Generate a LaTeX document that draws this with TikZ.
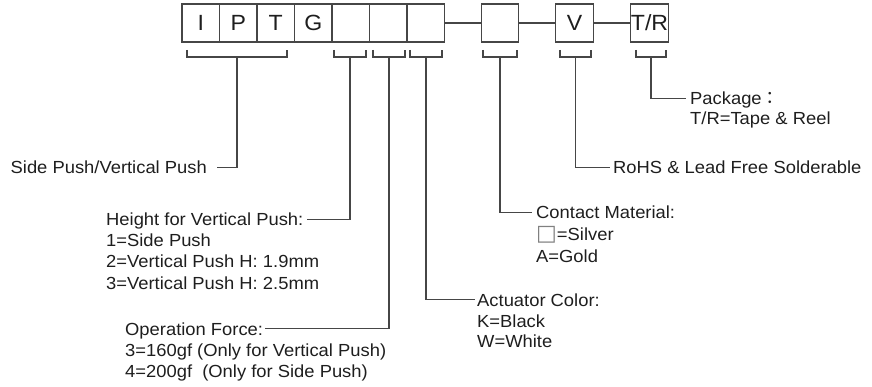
\documentclass[tikz,border=0pt]{standalone}
\usepackage{fontspec}
\setmainfont{Liberation Sans}[FakeStretch=1.05]
\newfontfamily\cjkfont{Noto Sans CJK TC}
\newfontfamily\symfont{DejaVu Sans}
\definecolor{ink}{RGB}{30,30,30}
\definecolor{wirec}{RGB}{70,70,70}
\begin{document}
\begin{tikzpicture}[x=1pt,y=-1pt,
  box/.style={draw=wirec, line width=1.2pt, minimum width=37.5pt, minimum height=38pt,
    inner sep=0pt, font=\fontsize{22}{24}\selectfont, text=ink},
  lbl/.style={inner sep=0pt, anchor=base west, font=\fontsize{17.5}{21}\selectfont,
    text=ink, text height=12.6pt, text depth=0pt},
  wire/.style={draw=wirec, line width=1.2pt}]
\useasboundingbox (0,0) rectangle (872,387);
% code boxes
\node[box] (b1) at (200.75,23) {I};
\node[box] (b2) at (238.25,23) {P};
\node[box] (b3) at (275.75,23) {T};
\node[box] (b4) at (313.25,23) {G};
\node[box] (b5) at (350.75,23) {};
\node[box] (b6) at (388.25,23) {};
\node[box] (b7) at (425.75,23) {};
\node[box] (b8) at (500,23) {};
\node[box] (b9) at (574.5,23) {V};
\node[box] (b10) at (649.5,23) {T/R};
\draw[wire] (b7.east) -- (b8.west);
\draw[wire] (b8.east) -- (b9.west);
\draw[wire] (b9.east) -- (b10.west);
% bracket centres
\coordinate (k1) at (237,57);
\coordinate (k2) at (350,57);
\coordinate (k3) at (389,57);
\coordinate (k4) at (426,57);
\coordinate (k5) at (500,57);
\coordinate (k6) at (575.5,57);
\coordinate (k7) at (651,57);
\draw[wire] ([xshift=-50pt]k1) ++(0,-7) -- ++(0,7) -- ++(100,0) -- ++(0,-7);
\draw[wire] ([xshift=-16pt]k2) ++(0,-7) -- ++(0,7) -- ++(32,0) -- ++(0,-7);
\draw[wire] ([xshift=-16pt]k3) ++(0,-7) -- ++(0,7) -- ++(32,0) -- ++(0,-7);
\draw[wire] ([xshift=-16pt]k4) ++(0,-7) -- ++(0,7) -- ++(32,0) -- ++(0,-7);
\draw[wire] ([xshift=-17pt]k5) ++(0,-7) -- ++(0,7) -- ++(34,0) -- ++(0,-7);
\draw[wire] ([xshift=-15.5pt]k6) ++(0,-7) -- ++(0,7) -- ++(31,0) -- ++(0,-7);
\draw[wire] ([xshift=-15pt]k7) ++(0,-7) -- ++(0,7) -- ++(30,0) -- ++(0,-7);
% labels
\node[lbl, anchor=base east] (s1) at (207,174) {Side Push/Vertical Push};
\node[lbl] (h1) at (106,226) {Height for Vertical Push:};
\node[lbl] (h2) at (106,247) {1=Side Push};
\node[lbl] (h3) at (106,268) {2=Vertical Push H: 1.9mm};
\node[lbl] (h4) at (106,289) {3=Vertical Push H: 2.5mm};
\node[lbl] (o1) at (125,335) {Operation Force:};
\node[lbl] (o2) at (125,356) {3=160gf (Only for Vertical Push)};
\node[lbl] (o3) at (125,377) {4=200gf~ (Only for Side Push)};
\node[lbl] (a1) at (477,306) {Actuator Color:};
\node[lbl] (a2) at (477,327) {K=Black};
\node[lbl] (a3) at (477,347) {W=White};
\node[lbl] (c1) at (536,219) {Contact Material:};
\node[lbl] (c2) at (536,241) {{\symfont\fontsize{22}{21}\selectfont\color{gray}□}=Silver};
\node[lbl] (c3) at (536,262) {A=Gold};
\node[lbl] (r1) at (613,174) {RoHS \& Lead Free Solderable};
\node[lbl] (p1) at (690,105) {Package{\cjkfont ：}};
\node[lbl] (p2) at (690,125) {T/R=Tape \& Reel};
% connectors
\draw[wire] (k1) |- ([xshift=10pt]s1.east);
\draw[wire] (k2) |- ([xshift=3pt]h1.east);
\draw[wire] (k3) |- ([xshift=2pt]o1.east);
\draw[wire] (k4) |- ([xshift=-2pt]a1.west);
\draw[wire] (k5) |- ([xshift=-4pt]c1.west);
\draw[wire] (k6) |- ([xshift=-3pt]r1.west);
\draw[wire] (k7) |- ([xshift=-4pt]p1.west);
\end{tikzpicture}
\end{document}
